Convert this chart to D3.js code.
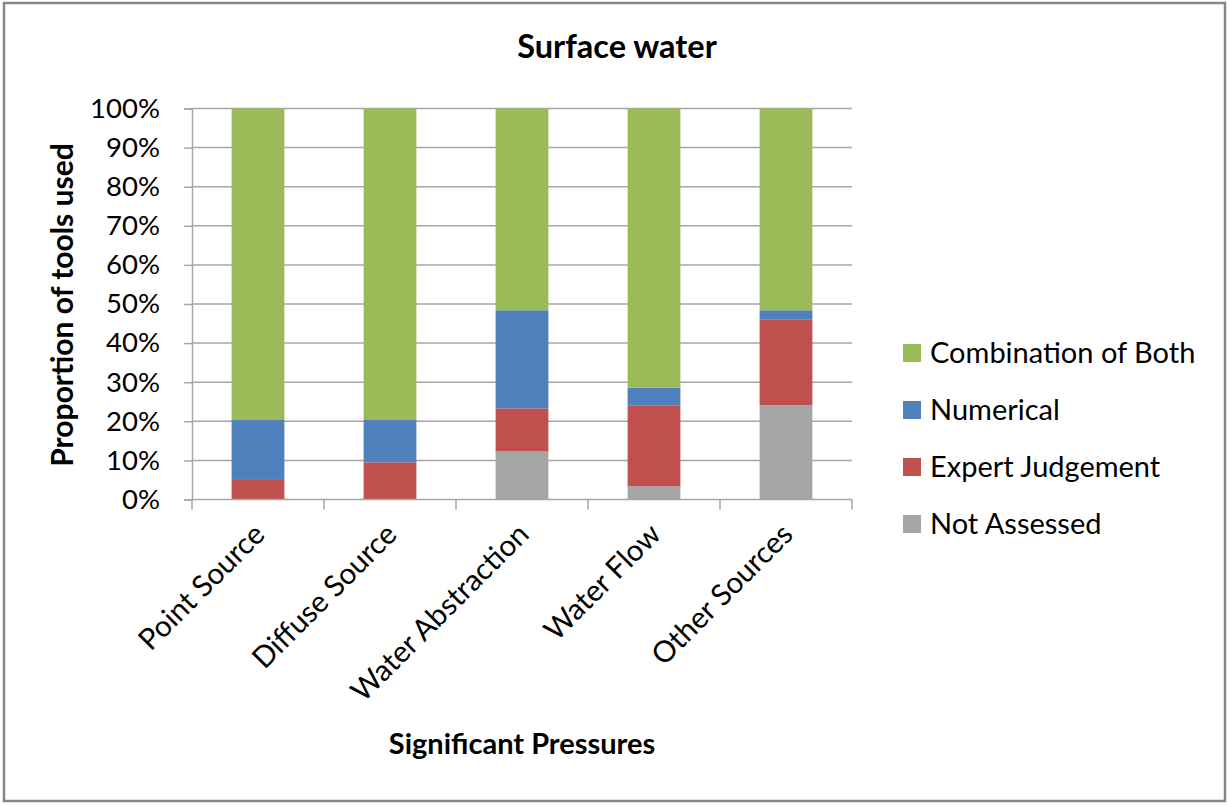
<!DOCTYPE html>
<meta charset="utf-8">
<script src="https://d3js.org/d3.v7.min.js"></script>
<style>
  body { margin: 0; background: #fff; }
  text { font-family: Lato, "Open Sans", sans-serif; fill: #000; }
</style>
<div id="chart"></div>
<script>

// categories and series (percent of tools used)
var pressures = ["Point Source", "Diffuse Source", "Water Abstraction", "Water Flow", "Other Sources"];
var notAssessed = [0, 0, 12.3, 3.4, 24.1];
var expertJudgement = [5.0, 9.5, 11.0, 20.7, 22.0];
var numerical = [15.5, 11.0, 25.1, 4.5, 2.3];
var combination = [79.5, 79.5, 51.6, 71.4, 51.6];
var seriesNames = ["Not Assessed", "Expert Judgement", "Numerical", "Combination of Both"];
var yTicks = [0, 10, 20, 30, 40, 50, 60, 70, 80, 90, 100];

var colors = {
  "Not Assessed": "#A5A5A5",
  "Expert Judgement": "#C0504D",
  "Numerical": "#4F81BD",
  "Combination of Both": "#9BBB59"
};

var rows = pressures.map(function(p, i) {
  return {
    pressure: p,
    "Not Assessed": notAssessed[i],
    "Expert Judgement": expertJudgement[i],
    "Numerical": numerical[i],
    "Combination of Both": combination[i]
  };
});

var W = 1229, H = 805;
var svg = d3.select("#chart").append("svg")
  .attr("width", W)
  .attr("height", H);

// outer frame
svg.append("rect")
  .attr("x", 4).attr("y", 3)
  .attr("width", 1221).attr("height", 798)
  .attr("fill", "#fff")
  .attr("stroke", "#868686")
  .attr("stroke-width", 2.5);

var plotLeft = 192, plotRight = 852, plotTop = 108.5, plotBottom = 499.5;

var x = d3.scaleBand()
  .domain(pressures)
  .range([plotLeft, plotRight])
  .paddingInner(0.6)
  .paddingOuter(0.3);

var y = d3.scaleLinear()
  .domain([0, 100])
  .range([plotBottom, plotTop]);

// gridlines
svg.append("g")
  .selectAll("line")
  .data(yTicks.filter(function(d) { return d > 0; }))
  .enter().append("line")
    .attr("x1", plotLeft).attr("x2", plotRight)
    .attr("y1", function(d) { return y(d); })
    .attr("y2", function(d) { return y(d); })
    .attr("stroke", "#A6A6A6")
    .attr("stroke-width", 1.5);

// stacked bars
var stack = d3.stack().keys(seriesNames);
var layers = stack(rows);

svg.append("g")
  .selectAll("g")
  .data(layers)
  .enter().append("g")
    .attr("fill", function(d) { return colors[d.key]; })
  .selectAll("rect")
  .data(function(d) { return d; })
  .enter().append("rect")
    .attr("x", function(d) { return x(d.data.pressure); })
    .attr("y", function(d) { return y(d[1]); })
    .attr("width", x.bandwidth())
    .attr("height", function(d) { return y(d[0]) - y(d[1]); });

// y axis
var yAxis = svg.append("g")
  .attr("transform", "translate(" + plotLeft + ",0)")
  .call(d3.axisLeft(y).tickValues(yTicks).tickSize(8).tickPadding(24)
    .tickFormat(function(d) { return d + "%"; }));
yAxis.select(".domain").attr("stroke", "#A6A6A6").attr("stroke-width", 1.5);
yAxis.selectAll(".tick line").attr("stroke", "#A6A6A6").attr("stroke-width", 1.5);
yAxis.selectAll(".tick text")
  .attr("font-size", 27.5)
  .attr("font-family", "Lato, sans-serif")
  .attr("fill", "#000");

// x axis: ticks at category boundaries
var step = (plotRight - plotLeft) / pressures.length;
var xg = svg.append("g");
xg.append("line")
  .attr("x1", plotLeft).attr("x2", plotRight)
  .attr("y1", plotBottom).attr("y2", plotBottom)
  .attr("stroke", "#A6A6A6").attr("stroke-width", 1.5);
xg.selectAll(".xt")
  .data(d3.range(pressures.length + 1))
  .enter().append("line")
    .attr("x1", function(i) { return plotLeft + i * step; })
    .attr("x2", function(i) { return plotLeft + i * step; })
    .attr("y1", plotBottom).attr("y2", plotBottom + 10)
    .attr("stroke", "#A6A6A6").attr("stroke-width", 1.5);

xg.selectAll(".xl")
  .data(pressures)
  .enter().append("text")
    .attr("transform", function(d) {
      return "translate(" + (x(d) + x.bandwidth() / 2 - 6) + "," + (plotBottom + 22) + ") rotate(-45)";
    })
    .attr("text-anchor", "end")
    .attr("dy", "0.7em")
    .attr("font-size", 29.5)
    .text(function(d) { return d; });

// titles
svg.append("text")
  .attr("x", 617).attr("y", 58)
  .attr("text-anchor", "middle")
  .attr("font-size", 32.5)
  .attr("font-weight", "bold")
  .text("Surface water");

svg.append("text")
  .attr("x", 522).attr("y", 754)
  .attr("text-anchor", "middle")
  .attr("font-size", 29)
  .attr("font-weight", "bold")
  .text("Significant Pressures");

svg.append("text")
  .attr("transform", "translate(73,305) rotate(-90)")
  .attr("text-anchor", "middle")
  .attr("font-size", 30)
  .attr("font-weight", "bold")
  .text("Proportion of tools used");

// legend (top entry is Combination of Both)
var legendOrder = seriesNames.slice().reverse();
var legend = svg.append("g")
  .selectAll("g")
  .data(legendOrder)
  .enter().append("g")
    .attr("transform", function(d, i) { return "translate(903," + (353 + i * 57) + ")"; });

legend.append("rect")
  .attr("x", 0).attr("y", -9)
  .attr("width", 18).attr("height", 18)
  .attr("fill", function(d) { return colors[d]; });

legend.append("text")
  .attr("x", 27).attr("y", 0)
  .attr("dy", "0.36em")
  .attr("font-size", 29)
  .text(function(d) { return d; });

</script>
